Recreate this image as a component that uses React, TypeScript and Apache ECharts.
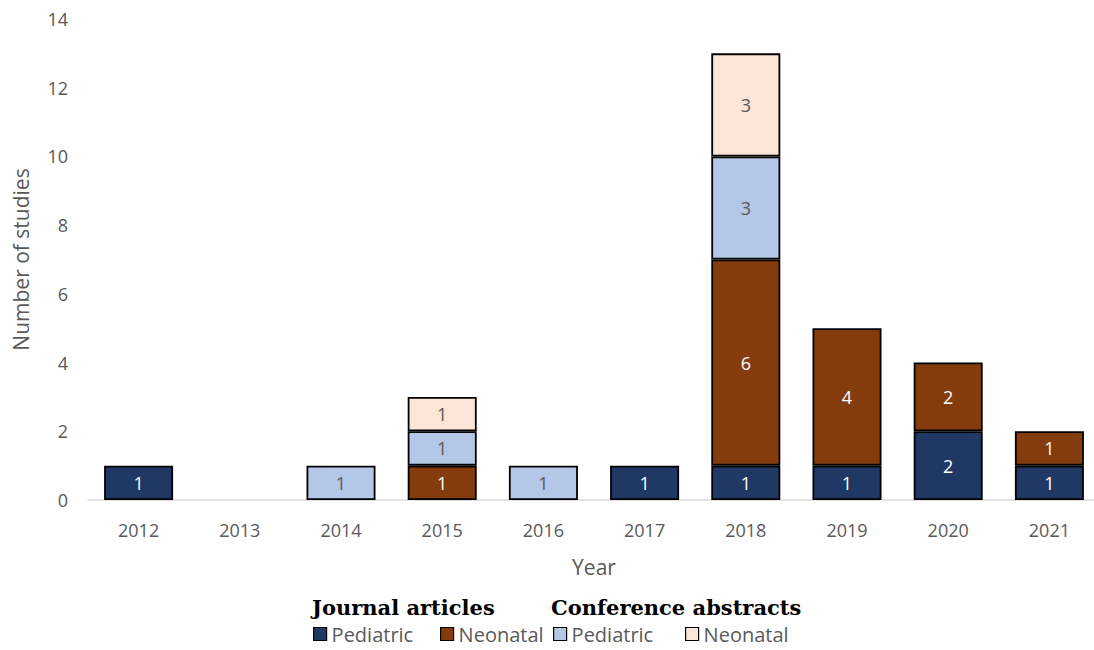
import React, { useEffect, useRef } from "react";
import * as echarts from "echarts";

const years = ["2012", "2013", "2014", "2015", "2016", "2017", "2018", "2019", "2020", "2021"];
const journalPediatric = [1, 0, 0, 0, 0, 1, 1, 1, 2, 1];
const journalNeonatal = [0, 0, 0, 1, 0, 0, 6, 4, 2, 1];
const conferencePediatric = [0, 0, 1, 1, 1, 0, 3, 0, 0, 0];
const conferenceNeonatal = [0, 0, 0, 1, 0, 0, 3, 0, 0, 0];

const FONT = "'Open Sans', sans-serif";
const GREY = "#595959";

const toData = (arr: number[]) => arr.map((v) => (v === 0 ? null : v));

function makeSeries(id: string, data: number[], color: string, labelColor: string) {
  return {
    name: id,
    type: "bar",
    stack: "total",
    barWidth: 69,
    data: toData(data),
    itemStyle: { color, borderColor: "#000", borderWidth: 1.8 },
    label: {
      show: true,
      position: "inside",
      color: labelColor,
      fontFamily: FONT,
      fontSize: 18,
      formatter: (p: any) => (p.value ? String(p.value) : ""),
    },
  };
}

const legendItem = (name: string, label: string, left: number) => ({
  data: [name],
  left,
  top: 624,
  itemWidth: 13,
  itemHeight: 13,
  itemGap: 0,
  icon: "rect",
  itemStyle: { borderColor: "#000", borderWidth: 1.2 },
  formatter: () => label,
  textStyle: { color: GREY, fontFamily: FONT, fontSize: 20, lineHeight: 20 },
  selectedMode: false,
  padding: 0,
});

export default function App() {
  const ref = useRef<HTMLDivElement>(null);
  useEffect(() => {
    const chart = echarts.init(ref.current!, null, { renderer: "svg" });
    chart.setOption({
      animation: false,
      grid: { left: 88, width: 1012, top: 19, height: 481 },
      xAxis: {
        type: "category",
        data: years,
        name: "Year",
        nameLocation: "middle",
        nameGap: 56,
        nameTextStyle: { color: GREY, fontFamily: FONT, fontSize: 21 },
        axisLine: { lineStyle: { color: "#d9d9d9", width: 1.5 } },
        axisTick: { show: false },
        axisLabel: { color: GREY, fontFamily: FONT, fontSize: 18, margin: 21 },
      },
      yAxis: {
        type: "value",
        min: 0,
        max: 14,
        interval: 2,
        name: "Number of studies",
        nameLocation: "middle",
        nameGap: 57,
        nameTextStyle: { color: GREY, fontFamily: FONT, fontSize: 21 },
        axisLine: { show: false },
        axisTick: { show: false },
        splitLine: { show: false },
        axisLabel: { color: GREY, fontFamily: FONT, fontSize: 18, margin: 20 },
      },
      legend: [
        legendItem("Journal Pediatric", "Pediatric", 313),
        legendItem("Journal Neonatal", "Neonatal", 440),
        legendItem("Conference Pediatric", "Pediatric", 553),
        legendItem("Conference Neonatal", "Neonatal", 685),
      ],
      graphic: [
        {
          type: "text",
          left: 312,
          top: 597,
          style: {
            text: "Journal articles",
            font: "bold 21px 'DejaVu Serif', serif",
            fill: "#000",
          },
        },
        {
          type: "text",
          left: 551,
          top: 597,
          style: {
            text: "Conference abstracts",
            font: "bold 21px 'DejaVu Serif', serif",
            fill: "#000",
          },
        },
      ],
      series: [
        makeSeries("Journal Pediatric", journalPediatric, "#1f3864", "#ffffff"),
        makeSeries("Journal Neonatal", journalNeonatal, "#843c0c", "#ffffff"),
        makeSeries("Conference Pediatric", conferencePediatric, "#b4c7e7", GREY),
        makeSeries("Conference Neonatal", conferenceNeonatal, "#fbe5d6", GREY),
      ],
    });
    return () => chart.dispose();
  }, []);
  return (
    <div
      style={{
        position: "absolute",
        left: 0,
        top: 0,
        width: 1094,
        height: 650,
        overflow: "hidden",
      }}
    >
      <div ref={ref} style={{ width: 1110, height: 650 }} />
    </div>
  );
}
